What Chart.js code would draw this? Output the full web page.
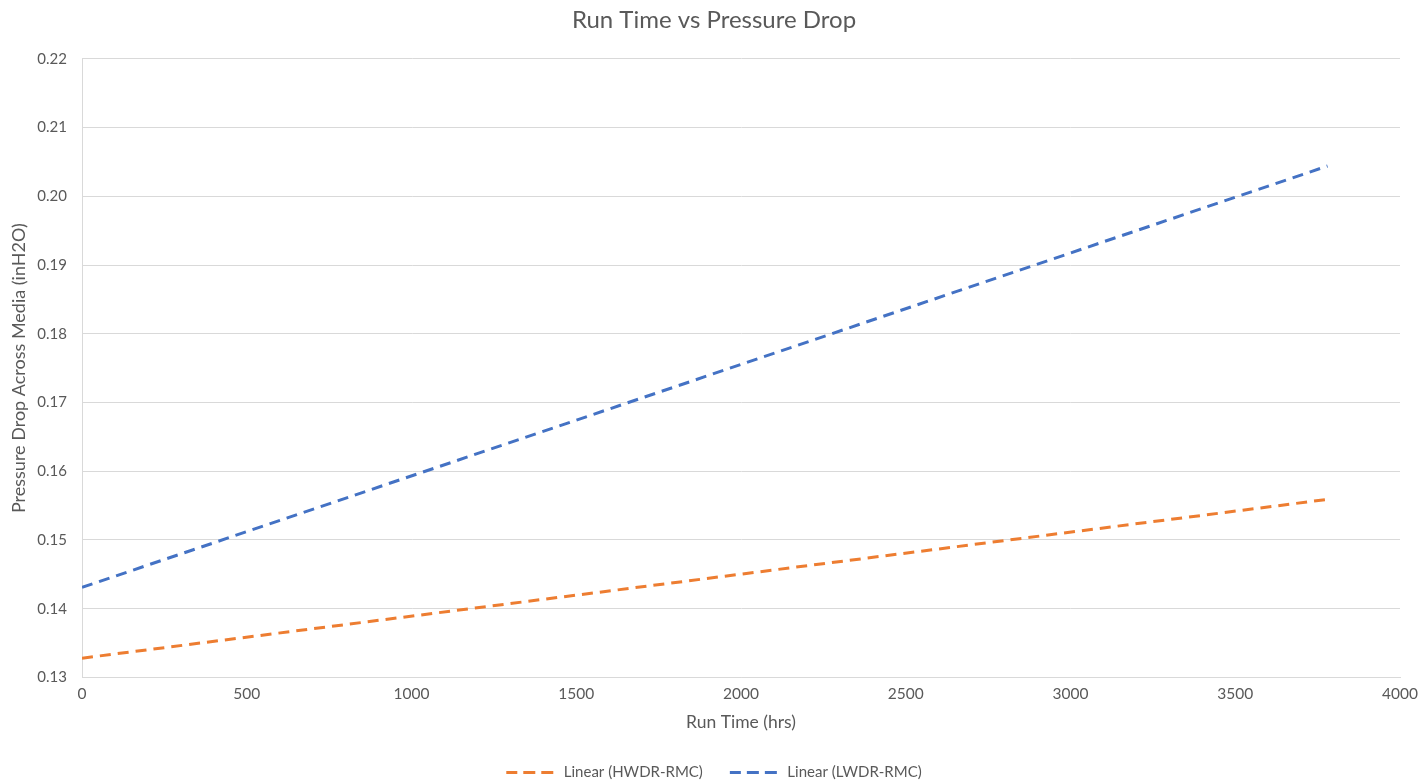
<!DOCTYPE html>
<html>
<head>
<meta charset="utf-8">
<script src="https://cdn.jsdelivr.net/npm/chart.js@4.4.1/dist/chart.umd.min.js"></script>
<style>
  html, body { margin: 0; padding: 0; background: #ffffff; }
  #wrap { width: 1420px; height: 782px; }
</style>
</head>
<body>
<div id="wrap"><canvas id="chart" width="1420" height="782"></canvas></div>
<script>
// Linear trendlines, run time (hrs) vs pressure drop (inH2O)
const runTimeHrs = [0, 3780];
const hwdrRmc = [0.1328, 0.1559];
const lwdrRmc = [0.1431, 0.2044];
const seriesNames = ['Linear (HWDR-RMC)', 'Linear (LWDR-RMC)'];
const xTicks = [0, 500, 1000, 1500, 2000, 2500, 3000, 3500, 4000];
const yTicks = [0.13, 0.14, 0.15, 0.16, 0.17, 0.18, 0.19, 0.20, 0.21, 0.22];

const FONT = "Lato, 'Open Sans', sans-serif";
const GREY = '#595959';

const toPoints = (xs, ys) => xs.map((x, i) => ({ x: x, y: ys[i] }));

new Chart(document.getElementById('chart'), {
  type: 'scatter',
  data: {
    datasets: [
      {
        label: seriesNames[0],
        data: toPoints(runTimeHrs, hwdrRmc),
        showLine: true,
        borderColor: '#ed7d31',
        backgroundColor: '#ed7d31',
        borderWidth: 3,
        borderDash: [11, 7],
        pointRadius: 0,
        pointHoverRadius: 0
      },
      {
        label: seriesNames[1],
        data: toPoints(runTimeHrs, lwdrRmc),
        showLine: true,
        borderColor: '#4472c4',
        backgroundColor: '#4472c4',
        borderWidth: 3,
        borderDash: [11, 7],
        pointRadius: 0,
        pointHoverRadius: 0
      }
    ]
  },
  options: {
    responsive: false,
    animation: false,
    layout: { padding: { left: 8, right: 0, top: 6, bottom: 0 } },
    plugins: {
      title: {
        display: true,
        text: 'Run Time vs Pressure Drop',
        color: GREY,
        font: { family: FONT, size: 24, weight: 'normal' },
        padding: { top: 0, bottom: 24 }
      },
      legend: {
        position: 'bottom',
        maxHeight: 44,
        labels: {
          color: GREY,
          font: { family: FONT, size: 15 },
          boxWidth: 50,
          boxHeight: 0,
          padding: 27
        }
      },
      tooltip: { enabled: false }
    },
    scales: {
      x: {
        type: 'linear',
        min: 0,
        max: 4000,
        afterBuildTicks: (axis) => { axis.ticks = xTicks.map(v => ({ value: v })); },
        afterFit: (axis) => { axis.paddingRight = 20; },
        ticks: {
          color: GREY,
          font: { family: FONT, size: 15.5 },
          padding: 7,
          callback: (v) => String(v)
        },
        grid: { display: false, drawTicks: false },
        border: { display: true, color: '#d9d9d9', width: 1 },
        title: {
          display: true,
          text: 'Run Time (hrs)',
          color: GREY,
          font: { family: FONT, size: 17.5 },
          padding: { top: 2, bottom: 5 }
        }
      },
      y: {
        type: 'linear',
        min: 0.13,
        max: 0.22,
        afterBuildTicks: (axis) => { axis.ticks = yTicks.map(v => ({ value: v })); },
        afterFit: (axis) => { axis.width = 74; },
        ticks: {
          color: GREY,
          font: { family: FONT, size: 15 },
          padding: 15,
          callback: (v) => Number(v).toFixed(2)
        },
        grid: { color: '#d9d9d9', lineWidth: 1, drawTicks: false },
        border: { display: true, color: '#d9d9d9', width: 1 },
        title: {
          display: true,
          text: 'Pressure Drop Across Media (inH2O)',
          color: GREY,
          font: { family: FONT, size: 18 },
          padding: { top: 0, bottom: 7 }
        }
      }
    }
  }
});
</script>
</body>
</html>
